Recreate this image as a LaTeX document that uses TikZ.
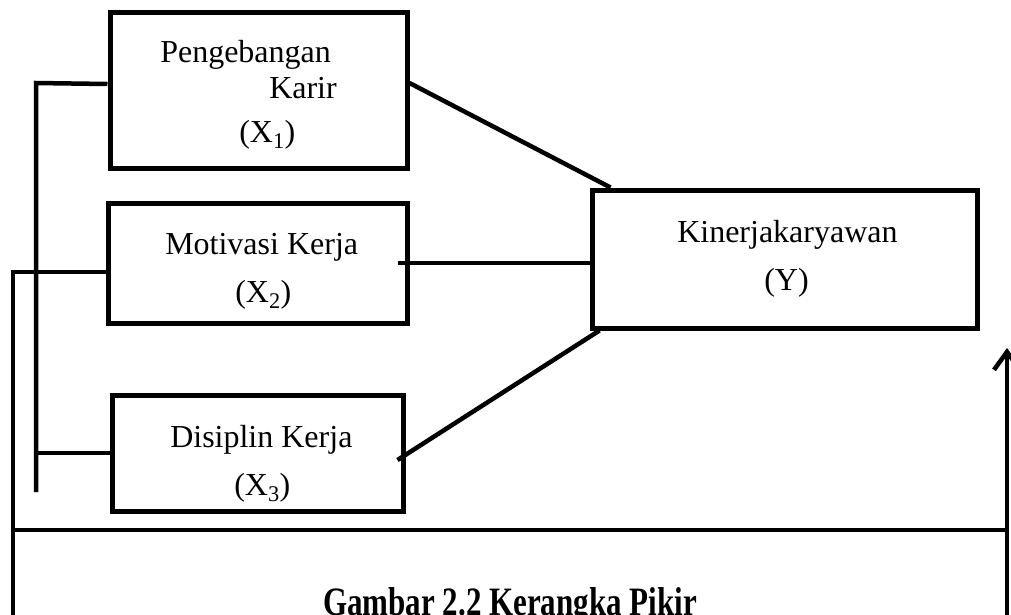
\documentclass[tikz,border=0pt]{standalone}
\usepackage{fontspec}
\setmainfont{Liberation Serif}
\usetikzlibrary{arrows.meta}
\begin{document}
\begin{tikzpicture}[x=1pt,y=-1pt,line width=4.5pt,
    kotak/.style={draw,rectangle,inner sep=0pt,line width=5pt},
    teks/.style={inner sep=0pt,anchor=base west,font=\fontsize{32}{38}\selectfont}]

      \useasboundingbox (0,0) rectangle (1011,614);
      \clip (0,0) rectangle (1011,614);

      \begin{scope}[every node/.style={kotak}]
        \node[minimum width=297pt,minimum height=156pt] (x1) at (258.5,90)  {};
        \node[minimum width=299pt,minimum height=120pt] (x2) at (257.5,263) {};
        \node[minimum width=291pt,minimum height=116pt] (x3) at (257.5,453) {};
        \node[minimum width=385pt,minimum height=138pt] (y)  at (784.5,259) {};
      \end{scope}

      \begin{scope}[every node/.style={teks}]
        \node (t1) at (158,62)  {Pengebangan};
        \node (t2) at (267,98)  {Karir};
        \node (t3) at (237,142) {(X\textsubscript{1})};
        \node (t4) at (163,254) {Motivasi Kerja};
        \node (t5) at (233,302) {(X\textsubscript{2})};
        \node (t6) at (168,447) {Disiplin Kerja};
        \node (t7) at (232,495) {(X\textsubscript{3})};
        \node (t8) at (675,242) {Kinerjakaryawan};
        \node (t9) at (762,290) {(Y)};
      \end{scope}

      \node[inner sep=0pt,anchor=base,font=\bfseries\fontsize{31}{36}\selectfont] (judul) at (510,615) {\scalebox{1}[1.3]{Gambar 2.2 Kerangka Pikir}};

      \coordinate (b1) at (36,83);
      \coordinate (b2) at (36,492);
      \coordinate (o1) at (13,272);
      \coordinate (o2) at (13,620);
      \coordinate (h1) at (13,530);
      \coordinate (h2) at (1007,530);
      \coordinate (r1) at (1007,620);
      \coordinate (r2) at (1007,348);

      \draw ([yshift=6pt]x1.west) -- (b1) -- (b2);
      \draw (b1 |- x3.west) -- (x3.west);
      \draw (o1 -| x2.west) -- (o1) -- (o2);
      \draw (h1) -- (h2);
      \draw[-{Straight Barb[length=18pt,width=26pt]}] (r1) -- (r2);

      \draw ([yshift=7pt]x1.east) -- ([xshift=21pt]y.north west);
      \draw ([xshift=-12pt]x2.east) -- (x2.east -| y.west);
      \draw ([xshift=-8pt,yshift=-7pt]x3.east) -- ([xshift=10pt]y.south west);

    \end{tikzpicture}
\end{document}
